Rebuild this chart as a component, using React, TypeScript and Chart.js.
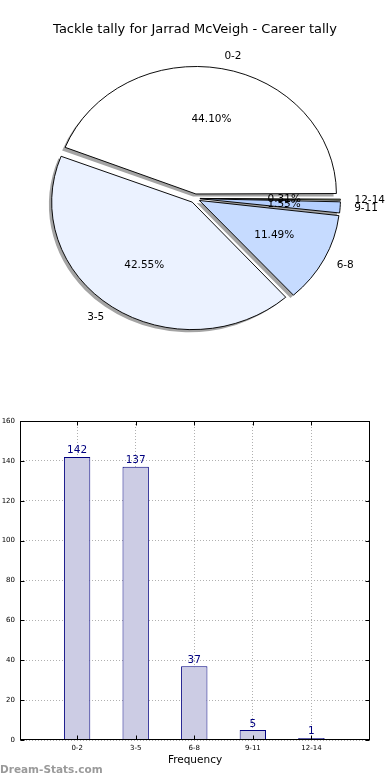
import React, { useEffect, useRef } from 'react';
import { Chart, registerables } from 'chart.js';

Chart.register(...registerables);

// ---- data ----
const categories = ['0-2', '3-5', '6-8', '9-11', '12-14'];
const counts = [142, 137, 37, 5, 1];
const pieColors = ['#ffffff', '#ebf2ff', '#c6dbff', '#b4cfff', '#dfeaa6'];
const yTicks = [0, 20, 40, 60, 80, 100, 120, 140, 160];
const titleText = 'Tackle tally for Jarrad McVeigh - Career tally';
const xTitle = 'Frequency';
const watermark = 'Dream-Stats.com';

const FONT = "'DejaVu Sans', sans-serif";
const SX = 1.102; // horizontal stretch of the pie (non-equal axes)
const R = 127.5; // pie radius (vertical)
const EXPL = 4.5; // explode distance in px (Chart.js offset / 4)

const total = counts.reduce((a, b) => a + b, 0);

const piePlugin = {
  id: 'pieExtras',
  beforeDatasetsDraw(chart: any) {
    const ctx = chart.ctx;
    const arcs = chart.getDatasetMeta(0).data;
    arcs.forEach((a: any) => {
      const fix = 1 - Math.sin(Math.min(Math.PI, a.circumference || 0));
      a.outerRadius = R - EXPL * fix;
    });
    const cx = arcs[0].x;
    ctx.save();
    ctx.translate(cx, 0);
    ctx.scale(SX, 1);
    ctx.translate(-cx, 0);
    ctx.fillStyle = '#a4a4a4';
    arcs.forEach((a: any) => {
      const h = (a.startAngle + a.endAngle) / 2;
      const ox = a.x + Math.cos(h) * EXPL - 2.8 / SX;
      const oy = a.y + Math.sin(h) * EXPL + 2.6;
      ctx.beginPath();
      ctx.moveTo(ox, oy);
      ctx.arc(ox, oy, R, a.startAngle, a.endAngle);
      ctx.closePath();
      ctx.fill();
    });
  },
  afterDatasetsDraw(chart: any) {
    const ctx = chart.ctx;
    ctx.restore();
    const arcs = chart.getDatasetMeta(0).data;
    const labels = chart.data.labels;
    const vals = chart.data.datasets[0].data;
    ctx.save();
    ctx.font = `10.5px ${FONT}`;
    ctx.fillStyle = '#000';
    ctx.textBaseline = 'middle';
    arcs.forEach((a: any, i: number) => {
      const h = (a.startAngle + a.endAngle) / 2;
      const c = Math.cos(h);
      const s = Math.sin(h);
      const lr = EXPL + 1.1 * R;
      ctx.textAlign = c > 0 ? 'left' : 'right';
      ctx.fillText(labels[i], a.x + SX * c * lr, a.y + s * lr);
    });
    arcs.forEach((a: any, i: number) => {
      const h = (a.startAngle + a.endAngle) / 2;
      const c = Math.cos(h);
      const s = Math.sin(h);
      const pr = EXPL + 0.6 * R;
      ctx.textAlign = 'center';
      ctx.fillText(((vals[i] / total) * 100).toFixed(2) + '%', a.x + SX * c * pr, a.y + s * pr);
    });
    ctx.restore();
  },
};

const barPlugin = {
  id: 'barExtras',
  afterDraw(chart: any) {
    const ctx = chart.ctx;
    const { left, right, top, bottom } = chart.chartArea;
    const L = Math.round(left) + 0.5;
    const Rr = Math.round(right) - 0.5;
    const T = Math.round(top) + 0.5;
    const B = Math.round(bottom) - 0.5;
    ctx.save();
    // inward tick marks
    ctx.strokeStyle = '#000';
    ctx.lineWidth = 1;
    const ys = chart.scales.y;
    ys.ticks.forEach((t: any) => {
      const y = Math.round(ys.getPixelForValue(t.value)) + 0.5;
      ctx.beginPath();
      ctx.moveTo(L, y); ctx.lineTo(L + 4, y);
      ctx.moveTo(Rr, y); ctx.lineTo(Rr - 4, y);
      ctx.stroke();
    });
    const xs = chart.scales.x;
    xs.ticks.forEach((t: any) => {
      const x = Math.round(xs.getPixelForValue(t.value)) + 0.5;
      ctx.beginPath();
      ctx.moveTo(x, B); ctx.lineTo(x, B - 4);
      ctx.moveTo(x, T); ctx.lineTo(x, T + 4);
      ctx.stroke();
    });
    // frame
    ctx.strokeRect(L, T, Rr - L, B - T);
    // value labels
    const meta = chart.getDatasetMeta(0);
    ctx.font = `10.5px ${FONT}`;
    ctx.fillStyle = '#000080';
    ctx.textAlign = 'center';
    ctx.textBaseline = 'bottom';
    meta.data.forEach((bar: any, i: number) => {
      ctx.fillText(String(counts[i]), bar.x, bar.y - 1);
    });
    // watermark
    ctx.font = `bold 10.5px ${FONT}`;
    ctx.fillStyle = '#9a9a9a';
    ctx.textAlign = 'left';
    ctx.textBaseline = 'middle';
    ctx.fillText(watermark, 0, 370);
    ctx.restore();
  },
};

function PieChart() {
  const ref = useRef<HTMLCanvasElement | null>(null);
  useEffect(() => {
    const rev = <T,>(a: T[]) => a.slice().reverse();
    const chart = new Chart(ref.current as HTMLCanvasElement, {
      type: 'pie',
      data: {
        labels: rev(categories),
        datasets: [
          {
            data: rev(counts),
            backgroundColor: rev(pieColors),
            borderColor: '#000',
            borderWidth: 0.9,
            offset: EXPL * 4,
            clip: false as any,
          } as any,
        ],
      },
      options: {
        animation: false,
        responsive: false,
        events: [],
        rotation: 90,
        radius: R,
        layout: { padding: { top: 0, bottom: 50.8, left: 0, right: 0 } },
        plugins: {
          legend: { display: false },
          tooltip: { enabled: false },
          title: {
            display: true,
            text: titleText,
            color: '#000',
            font: { family: FONT, size: 13, weight: 'normal' },
            padding: { top: 22, bottom: 10 },
          },
        },
      } as any,
      plugins: [piePlugin],
    });
    return () => chart.destroy();
  }, []);
  return <canvas ref={ref} width={390} height={400} style={{ display: 'block', width: 390, height: 400 }} />;
}

function BarChart() {
  const ref = useRef<HTMLCanvasElement | null>(null);
  useEffect(() => {
    const chart = new Chart(ref.current as HTMLCanvasElement, {
      type: 'bar',
      data: {
        datasets: [
          {
            data: counts.map((v, i) => ({ x: i, y: v })),
            backgroundColor: '#ccccE4',
            borderColor: '#000080',
            borderWidth: 1,
            barPercentage: 0.45,
            categoryPercentage: 1,
          } as any,
        ],
      },
      options: {
        animation: false,
        responsive: false,
        events: [],
        layout: { padding: { top: 21, right: 20, left: 0, bottom: 0 } },
        plugins: { legend: { display: false }, tooltip: { enabled: false } },
        scales: {
          x: {
            type: 'linear',
            min: -0.975,
            max: 5.0,
            offset: false,
            z: 1,
            afterBuildTicks: (s: any) => {
              s.ticks = categories.map((_, i) => ({ value: i }));
            },
            afterFit: (s: any) => {
              s.height = 40;
            },
            ticks: {
              callback: (v: any) => categories[v],
              font: { family: FONT, size: 7 },
              color: '#000',
              padding: 4,
              autoSkip: false,
              maxRotation: 0,
            },
            grid: { color: '#b0b0b0', lineWidth: 1, drawTicks: false, offset: false },
            border: { display: false, dash: [1, 2] },
            title: {
              display: true,
              text: xTitle,
              color: '#000',
              font: { family: FONT, size: 10.5 },
              padding: { top: 0, bottom: 13.7 },
            },
          },
          y: {
            min: 0,
            max: 160,
            z: 1,
            afterBuildTicks: (s: any) => {
              s.ticks = yTicks.map((v) => ({ value: v }));
            },
            afterFit: (s: any) => {
              s.width = 20;
            },
            ticks: {
              font: { family: FONT, size: 7 },
              color: '#000',
              padding: 5,
            },
            grid: { color: '#b0b0b0', lineWidth: 1, drawTicks: false },
            border: { display: false, dash: [1, 2] },
          },
        },
      } as any,
      plugins: [barPlugin],
    });
    return () => chart.destroy();
  }, []);
  return <canvas ref={ref} width={390} height={380} style={{ display: 'block', width: 390, height: 380 }} />;
}

export default function App() {
  useEffect(() => {
    document.body.style.margin = '0';
    document.body.style.background = '#fff';
  }, []);
  return (
    <div style={{ width: 390, height: 780, background: '#fff' }}>
      <PieChart />
      <BarChart />
    </div>
  );
}
